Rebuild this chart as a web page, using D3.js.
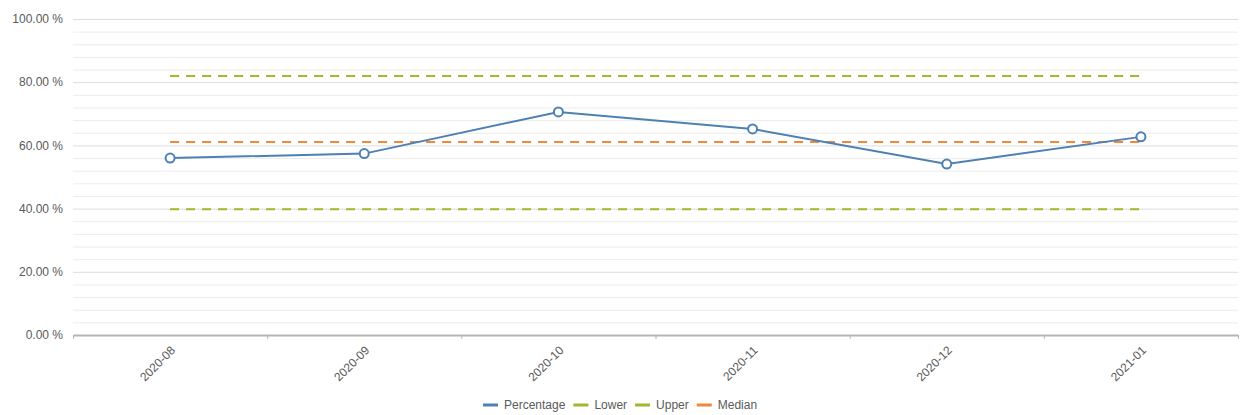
<!DOCTYPE html>
<html><head><meta charset="utf-8">
<script src="https://cdn.jsdelivr.net/npm/d3@7"></script>
<style>body{margin:0;background:#fff;}svg{display:block;font-family:"Liberation Sans",Arial,sans-serif;}</style>
</head><body><svg id="c" width="1243" height="415"></svg>
<script>
const categories = ["2020-08","2020-09","2020-10","2020-11","2020-12","2021-01"];
const percentage = [56.0, 57.4, 70.6, 65.2, 54.1, 62.7];
const lower = [39.8, 39.8, 39.8, 39.8, 39.8, 39.8];
const upper = [82.0, 82.0, 82.0, 82.0, 82.0, 82.0];
const median = [61.1, 61.1, 61.1, 61.1, 61.1, 61.1];
const yTicks = [0, 20, 40, 60, 80, 100];
const minorTicks = d3.range(0, 101, 4);
const legendItems = [
  {name:"Percentage", color:"#4e80b3"},
  {name:"Lower", color:"#9db92e"},
  {name:"Upper", color:"#9db92e"},
  {name:"Median", color:"#f0883c"}
];

const svg = d3.select("#c");
const L = 73, R = 1238, T = 19, B = 335;
const x = d3.scaleBand().domain(categories).range([L, R]);
const y = d3.scaleLinear().domain([0, 100]).range([B, T]);

// minor grid
svg.append("g").selectAll("line").data(minorTicks.filter(v => v % 20 !== 0)).join("line")
  .attr("x1", L).attr("x2", R).attr("y1", d => y(d)+0.5).attr("y2", d => y(d)+0.5)
  .attr("stroke", "#ececec").attr("stroke-width", 1);
// major grid
svg.append("g").selectAll("line").data(yTicks.filter(v => v > 0)).join("line")
  .attr("x1", L).attr("x2", R).attr("y1", d => y(d)+0.5).attr("y2", d => y(d)+0.5)
  .attr("stroke", "#dcdcdc").attr("stroke-width", 1);

// y labels
svg.append("g").selectAll("text").data(yTicks).join("text")
  .attr("x", 63).attr("y", d => y(d)).attr("dy", "0.35em").attr("text-anchor", "end")
  .attr("font-size", 12).attr("fill", "#5a5a5a").text(d => d.toFixed(2) + " %");

// x axis
const xa = svg.append("g").attr("transform", `translate(0,${B})`)
  .call(d3.axisBottom(x).tickSize(0).tickPadding(0));
xa.select(".domain").attr("stroke", "#b5b5b5").attr("stroke-width", 2);
xa.selectAll(".tick text").remove();
svg.append("g").selectAll("line").data(categories.concat(["__end"])).join("line")
  .attr("x1", (d,i) => L + i * x.bandwidth() + 0.5).attr("x2", (d,i) => L + i * x.bandwidth() + 0.5)
  .attr("y1", B).attr("y2", B + 4).attr("stroke", "#b5b5b5").attr("stroke-width", 1);
svg.append("g").selectAll("text").data(categories).join("text")
  .attr("transform", d => `translate(${x(d) + x.bandwidth()/2 + 3},${B + 13}) rotate(-45)`)
  .attr("text-anchor", "end").attr("dy", "0.35em")
  .attr("font-size", 12).attr("fill", "#5a5a5a").text(d => d);

const cx = d => x(d) + x.bandwidth()/2;
const line = d3.line().x(d => cx(d[0])).y(d => y(d[1]));
function dashed(vals, color) {
  svg.append("path").datum(categories.map((c,i) => [c, vals[i]]))
    .attr("d", line).attr("fill", "none").attr("stroke", color)
    .attr("stroke-width", 2).attr("stroke-dasharray", "9,7");
}
dashed(lower, legendItems[1].color);
dashed(upper, legendItems[2].color);
dashed(median, legendItems[3].color);

svg.append("path").datum(categories.map((c,i) => [c, percentage[i]]))
  .attr("d", line).attr("fill", "none").attr("stroke", legendItems[0].color).attr("stroke-width", 2);
svg.append("g").selectAll("circle").data(categories.map((c,i) => [c, percentage[i]])).join("circle")
  .attr("cx", d => cx(d[0])).attr("cy", d => y(d[1])).attr("r", 4.5)
  .attr("fill", "#fff").attr("stroke", legendItems[0].color).attr("stroke-width", 2);

// legend
const lg = svg.append("g").attr("transform", "translate(483,405)");
let off = 0;
legendItems.forEach(it => {
  const g = lg.append("g").attr("transform", `translate(${off},0)`);
  g.append("line").attr("x1", 0).attr("x2", 15).attr("y1", 0).attr("y2", 0)
    .attr("stroke", it.color).attr("stroke-width", 3);
  const t = g.append("text").attr("x", 21).attr("y", 0).attr("dy", "0.35em")
    .attr("font-size", 12).attr("fill", "#5a5a5a").text(it.name);
  off += 21 + t.node().getComputedTextLength() + 8;
});
</script></body></html>
